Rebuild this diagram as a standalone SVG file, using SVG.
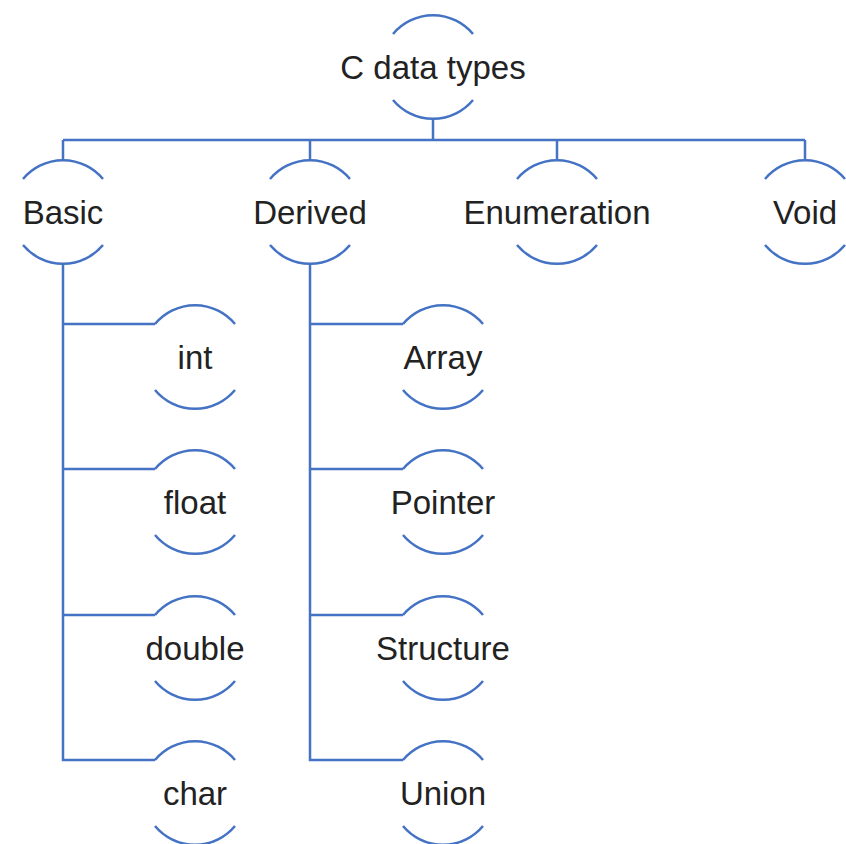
<svg xmlns="http://www.w3.org/2000/svg" width="846" height="844" viewBox="0 0 846 844">
<style>
.arc{fill:none;stroke:#4472C4;stroke-width:2.5}
.con{fill:none;stroke:#4472C4;stroke-width:2.5}
text{font-family:"Liberation Sans",Arial,sans-serif;font-size:33px;fill:#222;text-anchor:middle}
</style>
<rect width="846" height="844" fill="#fff"/>
<g id="connectors">
<path class="con" d="M433 119V140M63 140H805M63 140V160M310 140V160M557 140V160M805 140V160"/>
<path class="con" d="M63 264V760H155M63 324H155M63 469H155M63 615H155"/>
<path class="con" d="M310 264V760H403M310 324H403M310 469H403M310 615H403"/>
</g>
<g id="n-root"><path class="arc" d="M393 34A52 52 0 0 1 473 34M393 100A52 52 0 0 0 473 100"/><text x="433" y="79">C data types</text></g>
<g id="n-basic"><path class="arc" d="M23 179A52 52 0 0 1 103 179M23 245A52 52 0 0 0 103 245"/><text x="63" y="224">Basic</text></g>
<g id="n-derived"><path class="arc" d="M270 179A52 52 0 0 1 350 179M270 245A52 52 0 0 0 350 245"/><text x="310" y="224">Derived</text></g>
<g id="n-enum"><path class="arc" d="M517 179A52 52 0 0 1 597 179M517 245A52 52 0 0 0 597 245"/><text x="557" y="224">Enumeration</text></g>
<g id="n-void"><path class="arc" d="M765 179A52 52 0 0 1 845 179M765 245A52 52 0 0 0 845 245"/><text x="805" y="224">Void</text></g>
<g id="n-int"><path class="arc" d="M155 324A52 52 0 0 1 235 324M155 390A52 52 0 0 0 235 390"/><text x="195" y="369">int</text></g>
<g id="n-float"><path class="arc" d="M155 469A52 52 0 0 1 235 469M155 535A52 52 0 0 0 235 535"/><text x="195" y="514">float</text></g>
<g id="n-double"><path class="arc" d="M155 615A52 52 0 0 1 235 615M155 681A52 52 0 0 0 235 681"/><text x="195" y="660">double</text></g>
<g id="n-char"><path class="arc" d="M155 760A52 52 0 0 1 235 760M155 826A52 52 0 0 0 235 826"/><text x="195" y="805">char</text></g>
<g id="n-array"><path class="arc" d="M403 324A52 52 0 0 1 483 324M403 390A52 52 0 0 0 483 390"/><text x="443" y="369">Array</text></g>
<g id="n-pointer"><path class="arc" d="M403 469A52 52 0 0 1 483 469M403 535A52 52 0 0 0 483 535"/><text x="443" y="514">Pointer</text></g>
<g id="n-structure"><path class="arc" d="M403 615A52 52 0 0 1 483 615M403 681A52 52 0 0 0 483 681"/><text x="443" y="660">Structure</text></g>
<g id="n-union"><path class="arc" d="M403 760A52 52 0 0 1 483 760M403 826A52 52 0 0 0 483 826"/><text x="443" y="805">Union</text></g>
</svg>
